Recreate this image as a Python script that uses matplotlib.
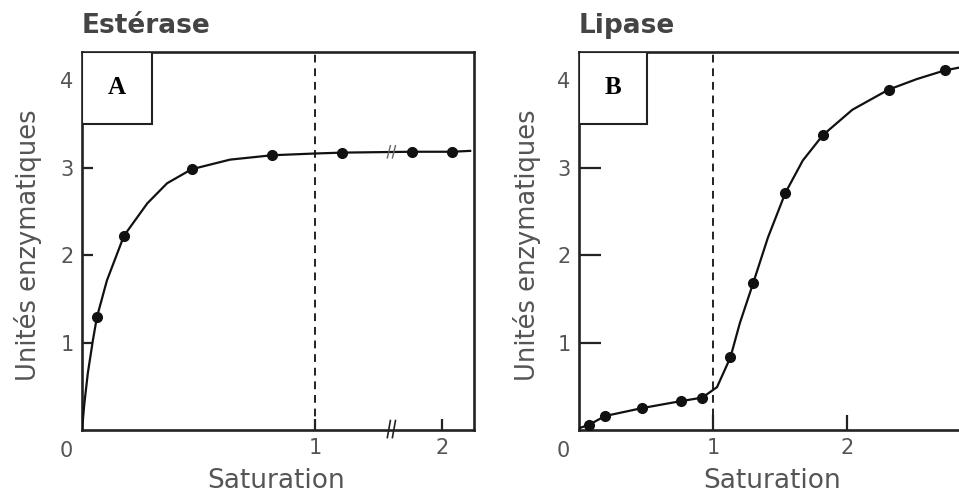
import numpy as np
import matplotlib
matplotlib.use('Agg')
from matplotlib import pyplot as plt
from matplotlib.patches import Rectangle

plt.rcParams['font.family'] = ['DejaVu Sans']

esterase_x = [0.064, 0.18, 0.47, 0.815, 1.21, 1.76, 2.08]
esterase_y = [1.29, 2.22, 2.98, 3.14, 3.17, 3.18, 3.18]
esterase_curve_x = [0.0, 0.01, 0.025, 0.047, 0.064, 0.107, 0.18, 0.28, 0.365, 0.47, 0.635, 0.815, 1.0, 1.21, 1.76, 2.08, 2.22]
esterase_curve_y = [0.0, 0.3, 0.65, 1.03, 1.29, 1.71, 2.22, 2.59, 2.82, 2.98, 3.09, 3.14, 3.16, 3.17, 3.18, 3.18, 3.19]

# --- Lipase (panel B)
lipase_x = [0.075, 0.195, 0.47, 0.76, 0.92, 1.13, 1.30, 1.54, 1.82, 2.31, 2.73]
lipase_y = [0.06, 0.16, 0.25, 0.33, 0.37, 0.83, 1.68, 2.71, 3.37, 3.89, 4.11]
lipase_curve_x = [0.0, 0.075, 0.195, 0.47, 0.76, 0.92, 1.03, 1.13, 1.2, 1.30, 1.41, 1.54, 1.67, 1.82, 2.04, 2.31, 2.52, 2.73, 2.9]
lipase_curve_y = [0.02, 0.06, 0.16, 0.25, 0.33, 0.37, 0.49, 0.83, 1.22, 1.68, 2.2, 2.71, 3.08, 3.37, 3.66, 3.89, 4.01, 4.11, 4.16]

y_ticks = [1, 2, 3, 4]
x_ticks = [1, 2]
saturation_line = 1.0
break_x = 1.6

# broken x axis in panel A: after 1 the scale is compressed
def fwd(x):
    x = np.asarray(x, dtype=float)
    return np.where(x <= 1, x, 1 + (x - 1) * 0.545)

def inv(x):
    x = np.asarray(x, dtype=float)
    return np.where(x <= 1, x, 1 + (x - 1) / 0.545)

gray = '#555555'
W, H = 959, 498
fig = plt.figure(figsize=(9.59, 4.98), dpi=100)

axA = fig.add_axes([82 / W, (H - 430) / H, (474 - 82) / W, (430 - 52) / H])
axB = fig.add_axes([579 / W, (H - 430) / H, (981 - 579) / W, (430 - 52) / H])

axA.set_xscale('function', functions=(fwd, inv))
axA.set_xlim(0, 2.25)
axB.set_xlim(0, 3.0)

panels = [
    (axA, esterase_x, esterase_y, esterase_curve_x, esterase_curve_y, 'Estérase', 'A', 8, 8, -40 / 392, 0.495, 70 / 392),
    (axB, lipase_x, lipase_y, lipase_curve_x, lipase_curve_y, 'Lipase', 'B', 16, 11, -38 / 402, 0.48, 68 / 402),
]

for ax, px, py, cx, cy, title, letter, ylen, xlen, ylab_x, xlab_x, box_w in panels:
    ax.set_ylim(0, 4.32)
    ax.plot(cx, cy, color='#111111', lw=1.6, zorder=3)
    ax.plot(px, py, 'o', color='#111111', ms=7, zorder=4)
    ax.axvline(saturation_line, color='#222222', lw=1.4, ls=(0, (4, 3)), zorder=2)

    for s in ax.spines.values():
        s.set_linewidth(1.9)
        s.set_color('#222222')

    ax.set_yticks(y_ticks)
    ax.set_xticks(x_ticks)
    ax.set_xticklabels([str(t) for t in x_ticks])
    ax.set_yticklabels([str(t) for t in y_ticks])
    ax.tick_params(axis='y', direction='in', length=ylen, width=1.6, labelsize=15,
                   labelcolor=gray, pad=6, color='#222222')
    ax.tick_params(axis='x', direction='in', length=xlen, width=1.6, labelsize=15,
                   labelcolor=gray, pad=6, color='#222222')
    ax.annotate('0', (0, 0), xytext=(-11, -15), textcoords='offset points',
                ha='center', va='center', fontsize=15, color=gray)

    ax.set_ylabel('Unités enzymatiques', fontsize=18.5, color=gray)
    ax.yaxis.set_label_coords(ylab_x, 0.49)
    ax.set_xlabel('Saturation', fontsize=19, color=gray)
    ax.xaxis.set_label_coords(xlab_x, -0.1)

    ax.text(0, 1.05, title, transform=ax.transAxes, fontsize=19, fontweight='bold',
            color='#444444', ha='left', va='baseline')

    ax.add_patch(Rectangle((0, 1 - 0.19), box_w, 0.19, transform=ax.transAxes,
                           facecolor='white', edgecolor='#222222', lw=1.5, zorder=5))
    ax.text(box_w / 2, 1 - 0.095, letter, transform=ax.transAxes, ha='center', va='center',
            fontsize=18, fontweight='bold', family='Liberation Serif', zorder=6)

# break marks on the axis and on the curve of panel A
xt = axA.get_xaxis_transform()
for dx in (-0.02, 0.02):
    axA.plot([break_x + dx - 0.012, break_x + dx + 0.012], [-0.02, 0.025], transform=xt,
             color='#222222', lw=1.2, clip_on=False, zorder=5)
    axA.plot([break_x + dx - 0.012, break_x + dx + 0.012], [3.11, 3.25],
             color='#666666', lw=1.0, zorder=5)

fig.savefig('out.png', dpi=100)
